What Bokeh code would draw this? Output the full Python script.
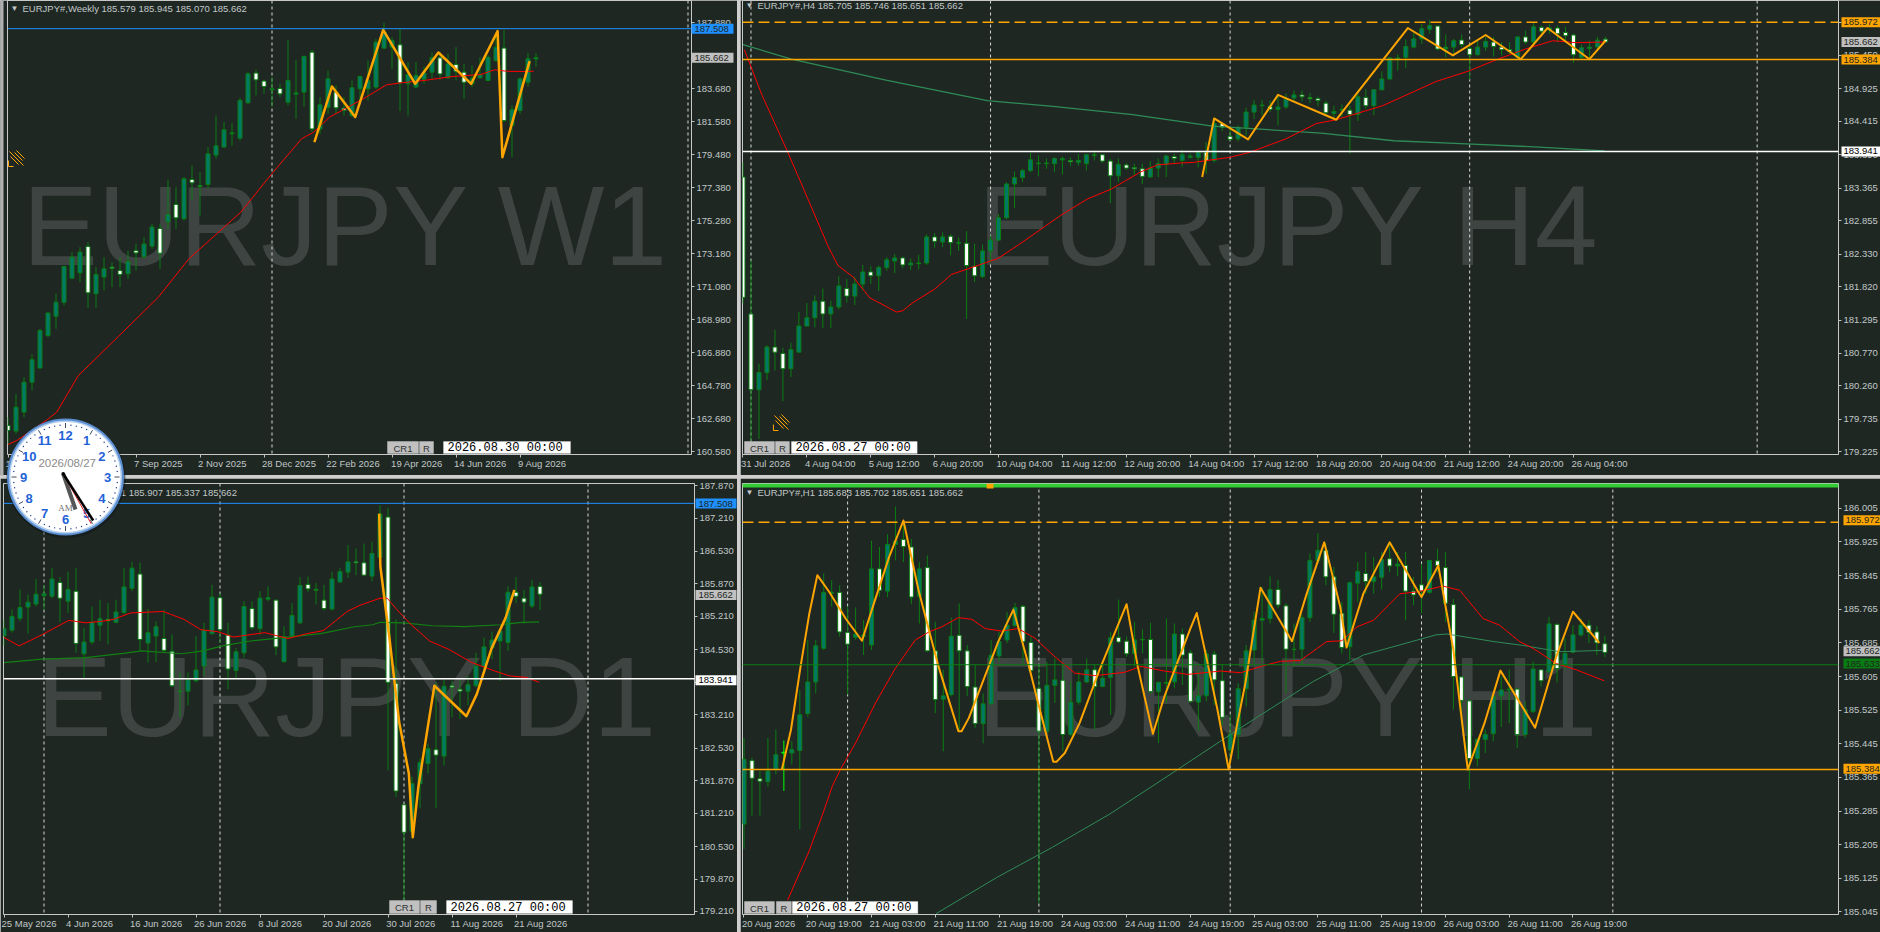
import math
from bokeh.plotting import figure
from bokeh.layouts import column, row
from bokeh.models import (Range1d, FixedTicker, PrintfTickFormatter, LinearAxis, Span, Label,
                          BoxAnnotation, ColumnDataSource)
from bokeh.core.properties import value
from bokeh.embed import file_html
from bokeh.resources import INLINE

# ---------- weekly ----------
w1_open = [162.26,161.90,163.11,165.01,165.91,167.98,169.21,170.10,171.63,171.97,
           173.65,170.64,171.70,172.33,172.12,171.91,173.39,173.01,173.67,174.79,
           175.22,176.32,175.41,177.91,177.53,177.59,179.46,179.97,180.82,180.54,
           182.79,184.68,184.17,183.62,183.70,182.83,183.34,183.47,186.01,181.13,
           182.51,183.47,182.45,181.98,183.68,183.68,183.79,186.27,186.33,186.48,
           184.00,183.79,184.29,184.74,185.65,184.38,185.23,184.74,184.00,184.38,
           184.21,185.48,186.27,181.35,182.30,184.10,185.579]
w1_close = [161.94,163.42,165.01,166.44,168.30,169.41,170.10,172.37,172.97,173.29,
            170.70,171.87,172.23,172.25,171.87,172.69,173.24,173.80,174.88,173.22,
            175.68,175.47,177.95,177.70,177.46,179.54,180.05,181.07,180.88,182.94,
            184.63,184.25,183.83,183.68,183.36,184.21,183.42,185.74,181.13,182.66,
            184.32,182.47,182.30,183.74,184.46,184.21,186.65,187.29,186.75,184.06,
            184.59,184.53,184.68,185.65,184.63,185.27,184.80,184.10,184.32,184.59,
            185.69,186.33,181.66,182.34,184.32,185.59,185.662]
w1_high = [162.79,164.27,165.33,166.78,168.41,169.47,170.64,172.37,173.29,173.60,
           173.92,172.33,172.97,172.65,172.97,173.39,173.82,174.24,175.09,175.09,
           177.89,177.42,178.06,178.80,178.38,179.97,181.98,181.56,181.49,183.11,
           184.74,184.89,184.25,184.42,184.00,186.80,185.52,185.80,186.16,183.15,
           184.85,183.89,183.15,184.21,184.53,185.48,186.86,187.88,186.97,187.50,
           185.38,185.38,185.10,186.01,186.01,185.91,186.33,185.27,185.16,185.69,
           185.80,187.18,187.43,182.62,184.38,185.97,185.945]
w1_low = [161.09,161.73,162.79,164.48,165.86,167.88,168.41,169.89,171.59,171.38,
          169.74,169.74,170.85,171.06,171.06,171.59,172.12,172.86,173.50,172.23,
          174.77,174.77,175.30,176.57,175.62,177.32,179.23,179.97,180.07,180.39,
          182.73,183.26,183.36,182.55,183.15,182.62,181.77,182.55,180.92,180.82,
          182.09,182.09,181.98,181.88,182.94,182.94,183.68,186.22,184.95,182.26,
          181.98,183.74,184.00,184.32,184.21,184.32,184.21,183.04,183.79,184.32,
          184.17,185.38,181.56,179.33,182.09,183.83,185.070]
w1_ticks = [160.58,162.68,164.78,166.88,168.98,171.08,173.18,175.28,177.38,179.48,181.58,183.68,185.78,187.88]
w1_xlabels = ["18 May 2025","13 Jul 2025","7 Sep 2025","2 Nov 2025","28 Dec 2025","22 Feb 2026","19 Apr 2026","14 Jun 2026","9 Aug 2026"]
w1_zig_x = [38.3,40.5,43.4,46.9,50.9,53.8,57.9,61.2,61.8,65.2]
w1_zig_y = [180.29,183.83,181.88,187.43,184.00,185.99,184.00,187.35,179.33,185.44]
w1_red_x = [0,1.1,4.9,6.1,8.8,13.8,18.8,22.6,29.1,32.9,36.7,38.2,40.2,44.4,47.3,49.1,52,55.5,59.1,60.8,62.3,64.4,65.7]
w1_red_y = [161.05,161.30,162.62,163.11,165.44,167.92,170.42,172.86,175.83,178.23,180.50,180.92,181.88,183.04,183.93,184.06,184.21,184.46,184.59,184.89,184.80,184.78,184.80]

# ---------- H4 ----------
h4_open = [183.54,181.39,180.20,180.47,180.87,180.77,180.53,180.79,181.20,181.33,
           181.59,181.39,181.50,181.79,181.67,181.86,182.05,181.99,182.12,182.22,
           182.27,182.16,182.18,182.19,182.60,182.52,182.61,182.50,182.50,182.14,
           181.98,182.38,182.55,182.90,183.43,183.53,183.64,183.75,183.75,183.75,
           183.81,183.80,183.77,183.75,183.88,183.89,183.79,183.56,183.73,183.69,
           183.67,183.54,183.68,183.74,183.86,183.80,183.85,183.85,183.93,183.80,
           184.38,184.18,184.14,184.32,184.56,184.66,184.65,184.60,184.64,184.78,
           184.83,184.79,184.77,184.70,184.54,184.59,184.59,184.52,184.79,184.66,
           184.91,185.08,185.40,185.42,185.58,185.71,185.86,185.91,185.55,185.58,
           185.69,185.56,185.46,185.58,185.66,185.58,185.54,185.42,185.74,185.66,
           185.89,185.85,185.88,185.81,185.77,185.42,185.56,185.58,185.705]
h4_close = [181.65,180.20,180.47,180.87,180.79,180.53,180.83,181.20,181.33,181.59,
            181.39,181.50,181.83,181.67,181.86,182.05,181.99,182.12,182.24,182.27,
            182.16,182.19,182.19,182.60,182.53,182.60,182.51,182.51,182.15,181.99,
            182.38,182.55,182.90,183.43,183.53,183.64,183.81,183.76,183.76,183.83,
            183.83,183.78,183.80,183.89,183.89,183.79,183.56,183.74,183.68,183.67,
            183.55,183.68,183.75,183.87,183.83,183.89,183.87,183.93,183.80,184.38,
            184.32,184.13,184.32,184.56,184.67,184.67,184.60,184.64,184.76,184.83,
            184.80,184.77,184.74,184.55,184.57,184.60,184.52,184.80,184.66,184.91,
            185.08,185.41,185.41,185.59,185.71,185.87,185.92,185.55,185.58,185.68,
            185.62,185.46,185.58,185.67,185.59,185.54,185.51,185.74,185.66,185.90,
            185.83,185.88,185.79,185.76,185.46,185.57,185.58,185.69,185.662]
h4_high = [183.77,182.23,180.61,180.90,181.14,180.86,180.94,181.42,181.56,181.68,
           181.79,181.60,181.98,181.94,181.97,182.16,182.14,182.15,182.28,182.33,
           182.29,182.26,182.32,182.64,182.66,182.67,182.64,182.59,182.69,182.49,
           182.48,182.62,182.96,183.46,183.63,183.67,183.92,183.88,183.83,183.85,
           183.86,183.85,183.90,183.90,183.96,183.90,183.83,183.83,183.76,183.75,
           183.75,183.79,183.83,183.89,183.91,183.97,183.91,183.96,184.09,184.45,
           184.40,184.32,184.35,184.63,184.75,184.75,184.74,184.82,184.85,184.90,
           184.90,184.86,184.80,184.74,184.66,184.68,184.66,184.90,184.92,184.92,
           185.20,185.42,185.47,185.70,185.80,185.94,186.01,185.92,185.78,185.71,
           185.78,185.63,185.68,185.74,185.74,185.66,185.66,185.75,185.84,185.97,
           185.92,185.94,185.92,185.90,185.79,185.62,185.68,185.74,185.746]
h4_low = [181.55,179.40,179.43,180.35,180.50,180.02,180.40,180.79,181.20,181.18,
          181.17,181.17,181.46,181.57,181.53,181.76,181.86,181.75,182.07,182.03,
          182.11,182.08,182.09,182.16,182.43,182.44,182.31,182.38,181.31,181.89,
          181.95,182.20,182.53,182.88,183.05,183.46,183.62,183.55,183.67,183.62,
          183.58,183.71,183.72,183.64,183.80,183.76,183.13,183.46,183.65,183.56,
          183.43,183.53,183.54,183.54,183.75,183.70,183.83,183.69,183.59,183.77,
          184.26,184.11,184.10,184.19,184.45,184.51,184.56,184.35,184.61,184.72,
          184.73,184.70,184.65,184.53,184.44,184.48,183.91,184.42,184.61,184.51,
          184.90,185.06,185.21,185.25,185.56,185.63,185.79,185.53,185.42,185.45,
          185.58,185.07,185.45,185.52,185.43,185.45,185.47,185.40,185.63,185.61,
          185.79,185.79,185.66,185.68,185.33,185.40,185.40,185.54,185.651]
h4_ticks = [179.225,179.735,180.260,180.770,181.295,181.820,182.330,182.855,183.365,183.890,184.415,184.925,185.450,185.960]
h4_xlabels = ["31 Jul 2026","4 Aug 04:00","5 Aug 12:00","6 Aug 20:00","10 Aug 04:00","11 Aug 12:00","12 Aug 20:00","14 Aug 04:00","17 Aug 12:00","18 Aug 20:00","20 Aug 04:00","21 Aug 12:00","24 Aug 20:00","26 Aug 04:00"]
h4_zig_x = [57.5,59,63.25,67,74.3,83.25,88.9,93,97.4,100.75,106,108]
h4_zig_y = [183.54,184.46,184.13,184.83,184.44,185.88,185.45,185.77,185.39,185.88,185.39,185.68]
h4_red_x = [0.17,2.4,5.5,7.5,10.7,11.9,13.8,15.9,17.3,19.2,20,21.3,24,26.1,28.2,31.9,34.8,39.8,43.2,46.1,49.8,51.9,54.8,56.4,61,63.5,68,71.8,74.3,80.1,86.8,91,94.3,98,101.4,104.3,108]
h4_red_y = [185.54,184.82,183.96,183.38,182.44,182.15,181.97,181.64,181.55,181.42,181.44,181.57,181.78,182.01,182.10,182.26,182.50,182.94,183.20,183.35,183.62,183.73,183.76,183.77,183.85,183.93,184.14,184.38,184.44,184.66,185.04,185.21,185.38,185.55,185.68,185.65,185.66]
h4_grn_x = [0,6.05,17.9,30.6,38.8,48.8,58.8,72.4,81.5,90.6,99.7,107.9]
h4_grn_y = [185.62,185.39,185.06,184.74,184.65,184.52,184.34,184.23,184.11,184.06,184.01,183.95]

# ---------- daily ----------
d1_open = [184.82,184.93,185.17,185.40,185.46,185.63,185.62,185.90,185.52,185.72,
           184.45,184.69,185.03,185.15,185.09,185.29,185.78,186.07,184.67,184.81,
           184.76,184.50,183.69,183.69,183.90,184.20,184.86,185.59,184.83,184.11,
           184.47,185.37,184.96,185.56,185.54,184.29,184.81,185.08,185.86,185.74,
           185.54,185.36,185.91,186.11,186.32,186.30,186.03,186.41,187.23,183.85,
           181.38,180.84,181.81,182.22,182.50,182.37,183.80,183.73,183.69,183.80,
           184.20,184.57,184.71,184.68,185.70,185.58,185.42,185.82]
d1_close = [184.96,185.21,185.39,185.50,185.66,185.67,185.97,185.58,185.76,184.66,
            184.69,185.09,185.16,185.12,185.30,185.81,186.19,184.74,184.88,185.00,
            184.52,183.80,183.68,183.92,184.12,184.93,185.60,184.94,184.14,184.49,
            185.41,184.98,185.58,185.59,184.59,184.80,185.23,185.84,185.77,185.76,
            185.37,185.97,186.12,186.32,186.30,186.05,186.49,187.29,183.87,181.66,
            180.82,181.81,182.24,182.52,182.39,183.79,183.77,183.69,183.82,184.20,
            184.59,184.73,184.91,185.70,185.62,185.50,185.81,185.662]
d1_high = [185.15,185.35,185.76,185.65,185.97,185.85,186.19,186.01,186.12,186.19,
           184.98,185.41,185.55,185.48,185.55,186.19,186.32,186.30,185.36,185.11,
           185.35,184.84,184.07,184.07,184.81,185.08,185.85,185.68,185.08,184.57,
           185.52,185.52,185.72,185.82,185.55,185.01,185.48,186.01,186.02,185.89,
           185.85,186.12,186.19,186.66,186.59,186.69,186.73,187.47,187.42,185.15,
           181.38,181.95,182.32,182.62,183.87,183.93,183.90,183.93,184.00,184.47,
           184.78,184.90,184.94,185.82,186.01,185.75,185.95,185.907]
d1_low = [184.61,184.88,185.11,184.86,185.41,185.35,185.58,185.09,185.28,184.47,
          183.95,184.64,184.71,184.64,185.08,185.25,185.72,184.51,184.27,184.28,
          184.47,183.77,183.16,183.40,183.87,184.00,184.84,184.67,183.73,183.93,
          184.37,184.94,184.84,185.52,184.42,184.27,184.78,185.05,185.70,185.45,
          185.33,185.33,185.89,185.99,186.05,186.03,185.92,186.39,182.08,181.54,
          179.43,180.74,181.31,182.02,181.31,182.18,183.16,183.13,183.40,183.77,
          184.14,184.34,183.90,184.51,185.48,185.05,185.38,185.337]
d1_ticks = [179.21,179.87,180.53,181.21,181.87,182.53,183.21,183.87,184.53,185.21,185.87,186.53,187.21,187.87]
d1_xlabels = ["25 May 2026","4 Jun 2026","16 Jun 2026","26 Jun 2026","8 Jul 2026","20 Jul 2026","30 Jul 2026","11 Aug 2026","21 Aug 2026"]
d1_zig_x = [46.9,47.05,48.2,49.4,50.6,51.1,51.8,53,53.8,57.8,59.1,60.9,62.7,63.8]
d1_zig_y = [187.30,186.22,184.74,183.06,182.02,180.72,181.75,182.99,183.80,183.18,183.63,184.54,185.18,185.75]
d1_red_x = [0,1.9,4.8,8.1,10.2,12.2,13.7,15.8,19.9,22.5,24.6,26.7,28.7,32.6,35.5,37.9,39.9,42.9,44.4,47,47.9,49.1,50.9,53.2,55.6,58.5,61.5,63.2,65.3,66.9]
d1_red_y = [184.78,184.61,184.84,185.13,185.08,185.11,185.15,185.28,185.31,185.15,184.94,184.90,184.79,184.88,184.76,184.86,184.92,185.31,185.43,185.58,185.58,185.35,185.04,184.71,184.54,184.27,184.09,184.00,183.97,183.87]
d1_grn_x = [0,4.8,10.2,14.9,17.2,22.2,24.9,27.3,30.8,34.9,39.6,43.8,46.1,47,50,53.5,57.6,62.1,64.7,66.9]
d1_grn_y = [184.27,184.34,184.37,184.46,184.51,184.45,184.51,184.61,184.71,184.78,184.86,185.00,185.04,185.09,185.08,185.02,185.00,185.04,185.09,185.10]

# ---------- H1 ----------
h1_open = [185.254,185.405,185.362,185.355,185.384,185.423,185.423,185.429,185.517,185.592,
           185.672,185.803,185.805,185.710,185.698,185.700,185.680,185.861,185.808,185.919,
           185.931,185.913,185.796,185.864,185.666,185.551,185.562,185.703,185.666,185.580,
           185.493,185.540,185.654,185.692,185.726,185.772,185.686,185.577,185.475,185.584,
           185.596,185.467,185.544,185.592,185.621,185.581,185.603,185.698,185.689,185.660,
           185.692,185.693,185.569,185.589,185.592,185.706,185.661,185.544,185.559,185.658,
           185.595,185.431,185.467,185.576,185.668,185.739,185.743,185.812,185.773,185.669,
           185.670,185.745,185.881,185.905,185.842,185.755,185.676,185.827,185.850,185.831,
           185.841,185.885,185.868,185.869,185.808,185.823,185.805,185.880,185.864,185.776,
           185.604,185.547,185.410,185.455,185.469,185.559,185.573,185.575,185.467,185.522,
           185.621,185.617,185.729,185.633,185.663,185.704,185.727,185.711,185.683]
h1_close = [185.408,185.363,185.356,185.380,185.419,185.425,185.431,185.514,185.592,185.678,
            185.805,185.805,185.711,185.682,185.706,185.704,185.861,185.810,185.919,185.927,
            185.914,185.794,185.861,185.666,185.550,185.559,185.701,185.666,185.581,185.493,
            185.540,185.656,185.688,185.727,185.769,185.688,185.619,185.475,185.584,185.597,
            185.467,185.544,185.592,185.621,185.581,185.601,185.697,185.687,185.659,185.692,
            185.693,185.569,185.591,185.591,185.706,185.656,185.546,185.559,185.659,185.597,
            185.508,185.467,185.576,185.666,185.739,185.743,185.812,185.775,185.670,185.670,
            185.745,185.881,185.905,185.842,185.753,185.674,185.828,185.855,185.831,185.842,
            185.883,185.868,185.872,185.808,185.799,185.808,185.881,185.869,185.779,185.605,
            185.548,185.410,185.455,185.467,185.558,185.573,185.575,185.467,185.526,185.623,
            185.595,185.730,185.624,185.660,185.704,185.727,185.710,185.685,185.662]
h1_high = [185.459,185.412,185.380,185.459,185.479,185.453,185.451,185.573,185.692,185.692,
           185.850,185.834,185.822,185.771,185.769,185.739,185.928,185.913,185.943,186.009,
           185.976,185.932,185.877,185.893,185.735,185.621,185.745,185.779,185.680,185.633,
           185.565,185.692,185.711,185.759,185.780,185.775,185.700,185.633,185.640,185.648,
           185.633,185.593,185.617,185.648,185.633,185.636,185.711,185.788,185.700,185.735,
           185.717,185.733,185.593,185.743,185.731,185.719,185.668,185.621,185.668,185.666,
           185.633,185.514,185.589,185.680,185.759,185.818,185.843,185.835,185.779,185.731,
           185.753,185.897,185.946,185.921,185.865,185.782,185.831,185.877,185.901,185.889,
           185.901,185.921,185.901,185.901,185.842,185.873,185.881,185.909,185.901,185.790,
           185.605,185.550,185.459,185.479,185.565,185.605,185.622,185.577,185.546,185.640,
           185.621,185.747,185.731,185.696,185.727,185.743,185.739,185.725,185.702]
h1_low = [185.195,185.274,185.274,185.343,185.372,185.333,185.396,185.242,185.509,185.565,
          185.668,185.771,185.700,185.562,185.692,185.656,185.668,185.794,185.794,185.881,
          185.877,185.777,185.731,185.664,185.518,185.427,185.558,185.475,185.558,185.483,
          185.446,185.538,185.640,185.684,185.723,185.636,185.617,185.066,185.471,185.542,
          185.427,185.463,185.538,185.589,185.479,185.580,185.514,185.684,185.652,185.629,
          185.660,185.565,185.447,185.542,185.577,185.585,185.542,185.475,185.546,185.538,
          185.490,185.400,185.408,185.534,185.636,185.640,185.731,185.767,185.565,185.629,
          185.633,185.735,185.873,185.822,185.709,185.660,185.644,185.782,185.802,185.802,
          185.812,185.853,185.843,185.739,185.775,185.755,185.802,185.853,185.735,185.526,
          185.494,185.337,185.392,185.423,185.451,185.485,185.494,185.435,185.459,185.518,
          185.581,185.613,185.591,185.621,185.660,185.700,185.684,185.656,185.651]
h1_ticks = [185.045,185.125,185.205,185.285,185.365,185.445,185.525,185.605,185.685,185.765,185.845,185.925,186.005]
h1_xlabels = ["20 Aug 2026","20 Aug 19:00","21 Aug 03:00","21 Aug 11:00","21 Aug 19:00","24 Aug 03:00","24 Aug 11:00","24 Aug 19:00","25 Aug 03:00","25 Aug 11:00","25 Aug 19:00","26 Aug 03:00","26 Aug 11:00","26 Aug 19:00"]
h1_zig_x = [4.75,5.9,7.1,8.2,9.2,10.7,12.75,14.8,16.3,18.2,20,21.9,24.4,26.9,27.3,28.2,30.7,31.9,33.8,35.7,36.9,38.8,39.2,40.25,42.1,44.6,48,49.4,51.3,52.75,56,56.8,57.9,59.4,60.8,61.9,62.9,64.8,68.75,70.6,72.8,74.8,75.6,77.7,81,84.6,85,87.1,89,90.8,92.9,94.9,99.25,101.9,104,107.3]
h1_zig_y = [185.384,185.479,185.629,185.755,185.846,185.806,185.743,185.690,185.779,185.889,185.976,185.810,185.629,185.475,185.475,185.506,185.629,185.688,185.764,185.633,185.542,185.402,185.402,185.423,185.494,185.621,185.777,185.629,185.469,185.558,185.719,185.756,185.660,185.526,185.384,185.494,185.589,185.816,185.689,185.802,185.924,185.771,185.674,185.802,185.924,185.806,185.794,185.869,185.668,185.384,185.494,185.619,185.483,185.652,185.759,185.685]
h1_red_x = [5.47,8.2,9.8,11.1,12.1,14,16.5,19,21.5,23.2,24.8,26.9,28.6,30.25,32.3,34.4,36.5,39,41.5,44,47.75,49.8,52.75,55.7,59.8,62.3,65.2,67.3,69.8,73.1,75,76.9,79,82.3,84.4,87.7,89.8,92.7,94.8,97.3,99,101.9,104.4,107.9]
h1_red_y = [185.073,185.191,185.274,185.345,185.384,185.447,185.542,185.625,185.692,185.711,185.723,185.745,185.741,185.719,185.713,185.719,185.696,185.652,185.613,185.607,185.615,185.629,185.618,185.610,185.618,185.614,185.631,185.641,185.643,185.688,185.690,185.723,185.739,185.802,185.806,185.820,185.810,185.743,185.727,185.688,185.672,185.636,185.621,185.595]
h1_grn_x = [24.1,31.8,38.7,45.9,54.1,62.3,71.4,77.7,86.8,88.2,94.1,97.7,102.3,107.7]
h1_grn_y = [185.041,185.128,185.199,185.278,185.380,185.483,185.593,185.656,185.704,185.706,185.688,185.679,185.664,185.667]

BG = "#1f2723"
FONT = "Liberation Sans"
SZ = "9.5px"
SZN = 9.5
TXT = "#c0c8c8"
ORANGE = "#ffa500"
WICK = "#0a7d12"
TEAL = "#007a64"
SEA = "#2e8b57"
RED = "#ff0000"
WHITE = "#ffffff"

# overlay over the whole page for what lies outside the chart frames
over = figure(width=1880, height=932, x_range=Range1d(0, 1880), y_range=Range1d(932, 0), min_border=0,
              background_fill_alpha=0, border_fill_alpha=0, outline_line_color=None, output_backend="svg",
              toolbar_location=None, tools="", x_axis_type=None, y_axis_type=None,
              styles={"position": "absolute", "left": "0px", "top": "0px", "z-index": "5", "pointer-events": "none"})
over.grid.visible = False


def label_width(s):
    w = 0
    for ch in s:
        if ch in " :":
            w += 0.278
        elif ch in "MAJ" or ch in "DNSFO":
            w += 0.68 if ch != "J" else 0.5
        elif ch in "lt":
            w += 0.25
        else:
            w += 0.556
    return w * SZN


class Panel:
    def __init__(self, w, h, L, R, T, B, first_px, ylo, yhi, off_x, off_y):
        self.L, self.R, self.T, self.B = L, R, T, B
        self.off_x, self.off_y = off_x, off_y
        self.x0 = (L - first_px) / 8
        self.x1 = (R - first_px) / 8
        self.ylo, self.yhi = ylo, yhi
        self.p = figure(width=w, height=h, x_range=Range1d(self.x0, self.x1), y_range=Range1d(ylo, yhi),
                        min_border_left=L, min_border_right=w - R, min_border_top=T, min_border_bottom=h - B,
                        background_fill_color=BG, border_fill_color=BG, outline_line_color="#c8c8c8",
                        output_backend="svg", toolbar_location=None, tools="", y_axis_location="right")
        self.p.grid.visible = False

    def X(self, page_px):
        return self.x0 + (page_px - self.off_x - self.L) / 8

    def Y(self, page_py):
        return self.yhi - (page_py - self.off_y - self.T) / (self.B - self.T) * (self.yhi - self.ylo)

    def py(self, price):
        return self.off_y + self.T + (self.yhi - price) / (self.yhi - self.ylo) * (self.B - self.T)

    def yaxis(self, ticks):
        a = self.p.yaxis[0]
        a.ticker = FixedTicker(ticks=ticks)
        a.formatter = PrintfTickFormatter(format="%.3f")
        a.axis_line_color = None
        a.major_tick_out = 3
        a.major_tick_in = 0
        a.minor_tick_line_color = None
        a.major_tick_line_color = "#c0c0c0"
        a.major_label_standoff = 2
        a.major_label_text_font = FONT
        a.major_label_text_font_size = SZ
        a.major_label_text_color = TXT

    def xaxis(self, labels):
        ticks = [8 * i for i in range(len(labels))]
        a = self.p.xaxis[0]
        a.ticker = FixedTicker(ticks=ticks)
        a.major_label_overrides = {t: "" for t in ticks}
        a.axis_line_color = None
        a.major_tick_out = 3
        a.major_tick_in = 0
        a.minor_tick_line_color = None
        a.major_tick_line_color = "#c0c0c0"
        a.major_label_standoff = 0
        a.major_label_text_font_size = "1px"
        shifted = [round(t + (label_width(s) / 2 - 2) / 8, 3) for t, s in zip(ticks, labels)]
        b = LinearAxis(ticker=FixedTicker(ticks=shifted),
                       major_label_overrides={t: s for t, s in zip(shifted, labels)},
                       axis_line_color=None, major_tick_line_color=None, minor_tick_line_color=None,
                       major_tick_out=0, major_tick_in=0, major_label_standoff=0,
                       major_label_text_font=FONT, major_label_text_font_size=SZ,
                       major_label_text_color=TXT)
        self.p.add_layout(b, "below")

    def candles(self, o, h, l, c, lime=None):
        x = list(range(len(o)))
        wick = [WICK] * len(o)
        edge = [WICK] * len(o)
        if lime is not None:
            wick[lime] = "#00ff00"
            edge[lime] = "#00ff00"
        src = ColumnDataSource(dict(x=x, o=o, h=h, l=l, c=c, wick=wick, edge=edge,
                                    top=[max(a, b) for a, b in zip(o, c)],
                                    bot=[min(a, b) for a, b in zip(o, c)],
                                    fill=[TEAL if b >= a else WHITE for a, b in zip(o, c)]))
        self.p.segment(x0="x", y0="l", x1="x", y1="h", line_color="wick", line_width=1, source=src)
        self.p.vbar(x="x", width=0.5, top="top", bottom="bot", fill_color="fill", line_color="edge", line_width=1, source=src)

    def watermark(self, text, page_x, page_mid):
        self.p.add_layout(Label(x=self.X(page_x), y=self.Y(page_mid), text=text, level="underlay",
                                text_font="Liberation Sans", text_font_size="113px", text_color="#3e4442",
                                text_baseline="middle", text_align="left"))

    def verticals(self, idx):
        for i in idx:
            self.p.add_layout(Span(location=i, dimension="height", line_color="#d8d8d8", line_width=1,
                                   line_dash="3 3", level="underlay"))

    def hline(self, price, color, width=1, dash="solid"):
        self.p.add_layout(Span(location=price, dimension="width", line_color=color, line_width=width, line_dash=dash))

    def tag(self, left, right, price, text, bg, fg="#1f2723", pad=3):
        y = self.py(price)
        over.quad(left=[left], right=[right], top=[y - 5], bottom=[y + 5], fill_color=bg, line_color=None)
        over.text([left + pad], [y], text=[text], text_font=value(FONT), text_font_size=SZ,
                  text_color=fg, text_baseline="middle", text_align="left")

    def text(self, px, py, s, color=TXT, size=SZ, font=FONT, align="left"):
        self.p.add_layout(Label(x=self.X(px), y=self.Y(py), text=s, text_font=font, text_font_size=size,
                                text_color=color, text_baseline="middle", text_align=align))

    def button(self, x0, x1, y0, y1, s, fill, color, size, font, align="center"):
        self.p.add_layout(BoxAnnotation(left=self.X(x0), right=self.X(x1), top=self.Y(y0), bottom=self.Y(y1),
                                        fill_color=fill, fill_alpha=1, line_color="#e8e8e8", line_width=1))
        self.text((x0 + x1) / 2 if align == "center" else x0 + 4, (y0 + y1) / 2 + 0.5, s, color, size, font, align)

    def icon(self, px, py):
        for k in range(0, 4):
            d = 2 * k
            self.p.line([self.X(px + 2 + d), self.X(px + 10 + d)],
                        [self.Y(py + 6 - d), self.Y(py + 14 - d)], line_color=ORANGE, line_width=1)
        self.p.line([self.X(px + 1), self.X(px + 15)], [self.Y(py + 1), self.Y(py + 15)], line_color=ORANGE, line_width=1)
        self.p.line([self.X(px), self.X(px), self.X(px + 5)], [self.Y(py + 10), self.Y(py + 16), self.Y(py + 16)],
                    line_color=ORANGE, line_width=1)


# ----- W1 -----
P1 = Panel(737, 475, 7, 691, 0, 454, 7.5, 160.41, 189.30, 0, 0)
P1.yaxis(w1_ticks)
P1.xaxis(w1_xlabels)
P1.watermark("EURJPY W1", 22, 225)
P1.verticals([33, 85])
P1.candles(w1_open, w1_high, w1_low, w1_close)
P1.p.line(w1_red_x, w1_red_y, line_color=RED, line_width=1)
P1.p.line(w1_zig_x, w1_zig_y, line_color=ORANGE, line_width=2.5, line_join="round")
P1.hline(187.508, "#1e90ff", 1)
P1.tag(691, 733, 187.508, "187.508", "#1e90ff")
P1.tag(691, 733, 185.662, "185.662", "#c0c0c0")
P1.text(10, 8, "▼", size="8px")
P1.text(22, 8, "EURJPY#,Weekly  185.579 185.945 185.070 185.662")
P1.button(387, 418, 441, 453, "CR1", "#c0c0c0", "#303030", SZ, FONT)
P1.button(419, 433, 441, 453, "R", "#c0c0c0", "#303030", SZ, FONT)
P1.button(443, 570, 441, 453, "2026.08.30 00:00", WHITE, "#000000", "12px", "Liberation Mono", "left")
P1.icon(8, 150)
over.quad(left=[0], right=[3], top=[0], bottom=[475], fill_color="#b0b0b0", line_color=None)

# ----- H4 -----
P2 = Panel(1140, 475, 2, 1100, 0, 454, 2.5, 179.183, 186.312, 740, 0)
P2.yaxis(h4_ticks)
P2.xaxis(h4_xlabels)
P2.watermark("EURJPY H4", 978, 225)
P2.verticals([1, 31, 61, 91, 127])
P2.candles(h4_open, h4_high, h4_low, h4_close)
P2.p.line(h4_grn_x, h4_grn_y, line_color=SEA, line_width=1.3)
P2.p.line(h4_red_x, h4_red_y, line_color=RED, line_width=1)
P2.hline(185.972, ORANGE, 1.5, "11 5")
P2.hline(185.384, ORANGE, 1.5)
P2.hline(183.941, WHITE, 1.5)
P2.p.line(h4_zig_x, h4_zig_y, line_color=ORANGE, line_width=2, line_join="round")
P2.tag(1841, 1880, 185.972, "185.972", ORANGE, pad=2)
P2.tag(1841, 1880, 185.662, "185.662", "#c0c0c0", pad=2)
P2.tag(1841, 1880, 185.384, "185.384", ORANGE, pad=2)
P2.tag(1841, 1880, 183.941, "183.941", WHITE, "#000000", pad=2)
P2.text(745, 5, "▼", size="8px")
P2.text(757, 5, "EURJPY#,H4  185.705 185.746 185.651 185.662")
P2.button(744, 774, 441, 453, "CR1", "#c0c0c0", "#303030", SZ, FONT)
P2.button(775, 789, 441, 453, "R", "#c0c0c0", "#303030", SZ, FONT)
P2.button(791, 917, 441, 453, "2026.08.27 00:00", WHITE, "#000000", "12px", "Liberation Mono", "left")
P2.icon(773, 414)

# ----- D1 -----
P3 = Panel(737, 454, 3, 694, 5, 439, 3.5, 179.149, 187.912, 0, 478)
P3.yaxis(d1_ticks)
P3.xaxis(d1_xlabels)
P3.watermark("EURJPY D1", 36, 698)
P3.verticals([5, 27, 50, 73])
P3.candles(d1_open, d1_high, d1_low, d1_close)
P3.p.line(d1_grn_x, d1_grn_y, line_color="#128012", line_width=1.2)
P3.p.line(d1_red_x, d1_red_y, line_color=RED, line_width=1)
P3.hline(187.508, "#1e90ff", 1)
P3.hline(183.941, WHITE, 1.5)
P3.p.line(d1_zig_x, d1_zig_y, line_color=ORANGE, line_width=2.5, line_join="round")
P3.tag(695, 736, 187.508, "187.508", "#1e90ff")
P3.tag(695, 736, 185.662, "185.662", "#c0c0c0")
P3.tag(695, 736, 183.941, "183.941", WHITE, "#000000")
P3.text(10, 492, "▼", size="8px")
P3.text(22, 492, "EURJPY#,Daily  185.651 185.907 185.337 185.662")
P3.button(389, 419, 903, 916, "CR1", "#c0c0c0", "#303030", SZ, FONT)
P3.button(420, 436, 903, 916, "R", "#c0c0c0", "#303030", SZ, FONT)
P3.button(446, 572, 903, 916, "2026.08.27 00:00", WHITE, "#000000", "12px", "Liberation Mono", "left")

# ----- H1 -----
P4 = Panel(1140, 454, 2, 1102, 3, 436, 3.5, 185.039, 186.064, 740, 478)
P4.yaxis(h1_ticks)
P4.xaxis(h1_xlabels)
P4.watermark("EURJPY H1", 978, 695)
P4.verticals([13, 37, 61, 85, 109])
P4.candles(h1_open, h1_high, h1_low, h1_close, lime=5)
P4.p.line(h1_grn_x, h1_grn_y, line_color=SEA, line_width=1)
P4.p.line(h1_red_x, h1_red_y, line_color=RED, line_width=1)
P4.hline(185.972, ORANGE, 1.5, "11 5")
P4.hline(185.384, ORANGE, 1.5)
P4.hline(185.633, "#0a7d12", 1)
P4.p.line(h1_zig_x, h1_zig_y, line_color=ORANGE, line_width=2, line_join="round")
P4.tag(1843, 1880, 185.972, "185.972", ORANGE, pad=2)
P4.tag(1843, 1880, 185.662, "185.662", "#c0c0c0", pad=2)
P4.tag(1843, 1880, 185.633, "185.633", "#0a7d12", pad=2)
P4.tag(1843, 1880, 185.384, "185.384", ORANGE, pad=2)
P4.p.add_layout(BoxAnnotation(left=P4.X(742), right=P4.X(1842), top=P4.Y(481), bottom=P4.Y(485), fill_color="#32cd32", fill_alpha=1, line_color=None))
P4.p.add_layout(BoxAnnotation(left=P4.X(987), right=P4.X(994), top=P4.Y(481), bottom=P4.Y(486), fill_color=ORANGE, fill_alpha=1, line_color=None))
P4.text(745, 490, "▼", size="8px")
P4.text(757, 490, "EURJPY#,H1  185.683 185.702 185.651 185.662")
P4.button(744, 774, 901, 913, "CR1", "#c0c0c0", "#303030", SZ, FONT)
P4.button(776, 791, 901, 913, "R", "#c0c0c0", "#303030", SZ, FONT)
P4.button(792, 918, 901, 913, "2026.08.27 00:00", WHITE, "#000000", "12px", "Liberation Mono", "left")

# ----- clock overlay -----
clock = figure(width=135, height=135, x_range=Range1d(0, 135), y_range=Range1d(135, 0),
               min_border=0, background_fill_alpha=0, border_fill_alpha=0, outline_line_color=None,
               output_backend="svg", toolbar_location=None, tools="", x_axis_type=None, y_axis_type=None,
               styles={"position": "absolute", "left": "0px", "top": "410px", "z-index": "10"})
clock.grid.visible = False
cx, cy = 65, 66.5
clock.circle([cx + 0.5], [cy + 1.5], radius=59.5, fill_color="#10161a", fill_alpha=0.5, line_color=None)
clock.circle([cx], [cy], radius=58.5, fill_color="#5b8fd2", line_color=None)
clock.circle([cx], [cy], radius=56.5, fill_color="#b5cfee", line_color=None)
clock.circle([cx], [cy], radius=55, fill_color="#ffffff", line_color=None)
for m in range(60):
    a = math.radians(m * 6)
    sx, cs = math.sin(a), -math.cos(a)
    if m % 5 == 0:
        clock.line([cx + 49 * sx, cx + 54 * sx], [cy + 49 * cs, cy + 54 * cs], line_color="#404a60", line_width=1)
    else:
        clock.circle([cx + 52 * sx], [cy + 52 * cs], radius=0.7, fill_color="#1c3f8f", line_color=None)
for n in range(1, 13):
    a = math.radians(n * 30)
    r = 42
    clock.text([cx + r * math.sin(a)], [cy - r * math.cos(a)], text=[str(n)], text_align="center", text_baseline="middle",
               text_color="#1f62d8", text_font_size="13px", text_font_style="bold", text_font=value("Liberation Sans"))
clock.text([66.7], [52.7], text=["2026/08/27"], text_align="center", text_baseline="middle", text_color="#8a8a8a",
           text_font_size="11.5px", text_font=value("Liberation Sans"))
clock.text([65], [97.7], text=["AM"], text_align="center", text_baseline="middle", text_color="#707070",
           text_font_size="9px", text_font=value("Liberation Serif"))
clock.line([62.7, 75], [63.3, 99], line_color="#555555", line_width=4)
clock.line([62.7, 90.7], [63.3, 113.3], line_color="#e02020", line_width=1)
clock.line([62.7, 92.7], [63.3, 110], line_color="#000000", line_width=2.5)
clock.circle([62.7], [63.3], radius=1.8, fill_color="#000000", line_color=None)

top = row(P1.p, P2.p, spacing=3)
bottom = row(P3.p, P4.p, spacing=3)
root = column(top, bottom, over, clock, spacing=3, width=1880, height=932,
              styles={"position": "absolute", "left": "0px", "top": "0px", "background-color": "#cfcfcf", "overflow": "hidden"})

open("out.html", "w").write(file_html(root, INLINE))
